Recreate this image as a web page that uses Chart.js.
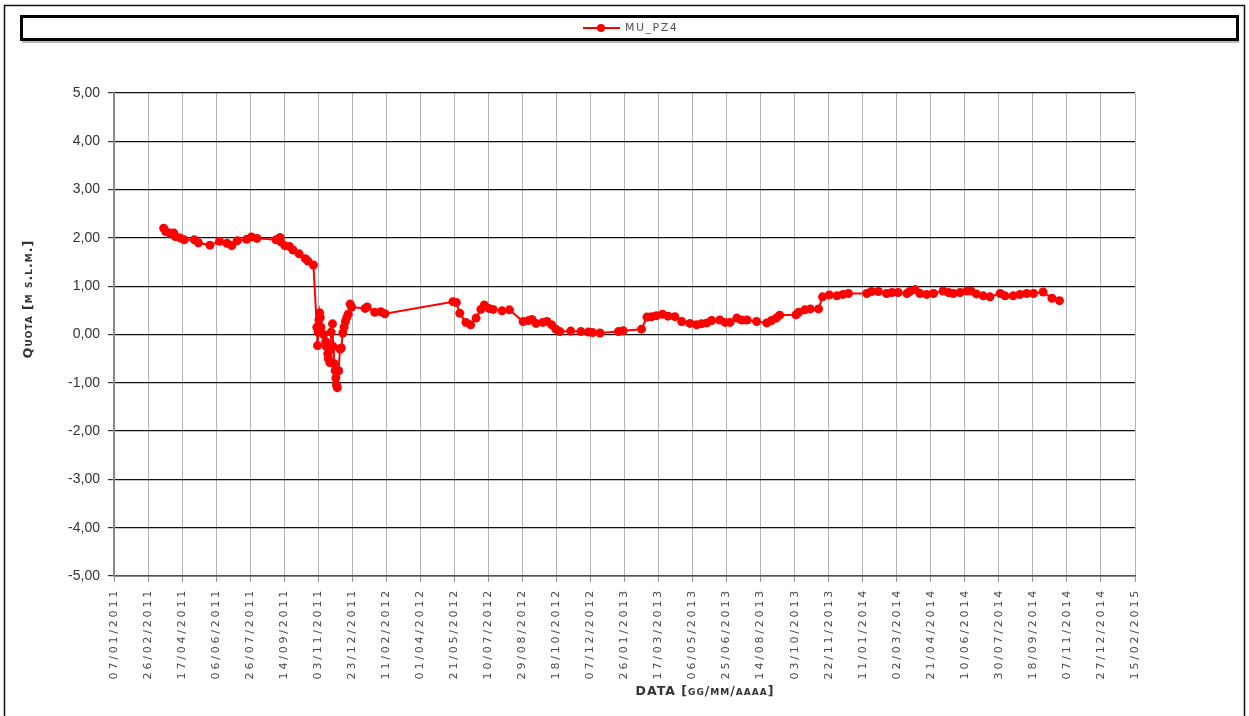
<!DOCTYPE html>
<html>
<head>
<meta charset="utf-8">
<title>MU_PZ4</title>
<script src="https://cdn.jsdelivr.net/npm/chart.js@4.4.1/dist/chart.umd.min.js"></script>
<style>
  html, body { margin: 0; padding: 0; background: #fff; }
  #chart-wrapper { width: 1249px; height: 716px; }
</style>
</head>
<body>
<div id="chart-wrapper"><canvas id="quotaCanvas" width="1249" height="716"></canvas></div>
<script>
// piezometer MU_PZ4 - groundwater level readings
const seriesName = 'MU_PZ4';
const axisStart = '2011-01-07';
const axisEnd = '2015-02-15';
const xStepDays = 50;
const yRange = [-5, 5];

const readDates = [
  '2011-03-21', '2011-03-24', '2011-03-30', '2011-04-05', '2011-04-07', '2011-04-14', '2011-04-20',
  '2011-05-05', '2011-05-11', '2011-05-28', '2011-06-11', '2011-06-22', '2011-06-29', '2011-07-07',
  '2011-07-21', '2011-07-28', '2011-08-05', '2011-09-02', '2011-09-08', '2011-09-09', '2011-09-15',
  '2011-09-22', '2011-09-27', '2011-10-06', '2011-10-15', '2011-10-19', '2011-10-27',
  '2011-11-01', '2011-11-02', '2011-11-03', '2011-11-04', '2011-11-05', '2011-11-06', '2011-11-07',
  '2011-11-11', '2011-11-14', '2011-11-15', '2011-11-17', '2011-11-18', '2011-11-20', '2011-11-21',
  '2011-11-22', '2011-11-24', '2011-11-25', '2011-11-26', '2011-11-28', '2011-11-29', '2011-11-30',
  '2011-12-01', '2011-12-03', '2011-12-05', '2011-12-07', '2011-12-09', '2011-12-11', '2011-12-13',
  '2011-12-15', '2011-12-17', '2011-12-20', '2011-12-22',
  '2012-01-11', '2012-01-14', '2012-01-25', '2012-02-03', '2012-02-09',
  '2012-05-19', '2012-05-24', '2012-05-29', '2012-06-07', '2012-06-14', '2012-06-22', '2012-06-29',
  '2012-07-04', '2012-07-11', '2012-07-17', '2012-07-30', '2012-08-10', '2012-08-30', '2012-09-07',
  '2012-09-12', '2012-09-18', '2012-09-28', '2012-10-04', '2012-10-11', '2012-10-17', '2012-10-23',
  '2012-11-08', '2012-11-23', '2012-12-04', '2012-12-10', '2012-12-21',
  '2013-01-17', '2013-01-24', '2013-02-20', '2013-02-28', '2013-03-07', '2013-03-14', '2013-03-23',
  '2013-03-31', '2013-04-10', '2013-04-20', '2013-05-02', '2013-05-12', '2013-05-19', '2013-05-27',
  '2013-06-03', '2013-06-15', '2013-06-23', '2013-06-30', '2013-07-10', '2013-07-17', '2013-07-25',
  '2013-08-08', '2013-08-23', '2013-08-30', '2013-09-06', '2013-09-11', '2013-10-05', '2013-10-09',
  '2013-10-18', '2013-10-26', '2013-11-07', '2013-11-13', '2013-11-23', '2013-12-04', '2013-12-13',
  '2013-12-21',
  '2014-01-17', '2014-01-24', '2014-02-03', '2014-02-15', '2014-02-23', '2014-03-04', '2014-03-17',
  '2014-03-21', '2014-03-29', '2014-04-05', '2014-04-15', '2014-04-25', '2014-05-09', '2014-05-17',
  '2014-05-24', '2014-06-03', '2014-06-13', '2014-06-19', '2014-06-27', '2014-07-07', '2014-07-17',
  '2014-08-01', '2014-08-08', '2014-08-20', '2014-08-30', '2014-09-09', '2014-09-19', '2014-10-03',
  '2014-10-16', '2014-10-27'
];

// quota in m s.l.m., one per date above
const levels = [
  2.20, 2.13, 2.10, 2.10, 2.03, 2.00, 1.96,
  1.96, 1.90, 1.85, 1.93, 1.89, 1.84, 1.94,
  1.97, 2.02, 1.99, 1.96, 2.01, 1.92, 1.84,
  1.82, 1.75, 1.67, 1.57, 1.52, 1.44,
  0.15, -0.23, 0.05, 0.30, 0.45, 0.35, 0.15,
  0.00, -0.15, -0.25, -0.40, -0.50, -0.58, -0.30,
  0.05, 0.22, -0.25, -0.60, -0.75, -0.90, -1.05,
  -1.10, -0.75, -0.30, -0.28, 0.03, 0.15, 0.27,
  0.35, 0.42, 0.63, 0.57,
  0.54, 0.57, 0.46, 0.47, 0.43,
  0.68, 0.66, 0.44, 0.25, 0.20, 0.34, 0.52,
  0.61, 0.54, 0.52, 0.49, 0.51, 0.27, 0.29,
  0.31, 0.23, 0.25, 0.27, 0.20, 0.11, 0.06,
  0.07, 0.06, 0.05, 0.04, 0.03,
  0.06, 0.08, 0.11, 0.36, 0.37, 0.39, 0.42,
  0.38, 0.37, 0.27, 0.23, 0.20, 0.22, 0.24,
  0.29, 0.30, 0.25, 0.25, 0.34, 0.30, 0.30,
  0.27, 0.24, 0.29, 0.34, 0.40, 0.41, 0.46,
  0.51, 0.53, 0.53, 0.78, 0.82, 0.80, 0.83,
  0.85,
  0.85, 0.89, 0.89, 0.85, 0.87, 0.87, 0.85,
  0.89, 0.93, 0.85, 0.83, 0.85, 0.90, 0.87,
  0.85, 0.87, 0.90, 0.90, 0.84, 0.80, 0.78,
  0.85, 0.80, 0.80, 0.83, 0.85, 0.85, 0.88,
  0.75, 0.70
];

const DAY_MS = 86400000;
const toUtc = (iso) => {
  const [y, m, d] = iso.split('-').map(Number);
  return Date.UTC(y, m - 1, d);
};
const origin = toUtc(axisStart);
const dayOffset = (iso) => (toUtc(iso) - origin) / DAY_MS;

function fmtDate(offset) {
  const d = new Date(origin + offset * DAY_MS);
  const dd = String(d.getUTCDate()).padStart(2, '0');
  const mm = String(d.getUTCMonth() + 1).padStart(2, '0');
  return `${dd}/${mm}/${d.getUTCFullYear()}`;
}

const points = readDates.map((iso, i) => ({ x: dayOffset(iso), y: levels[i] }));

// frame, legend box, rotated date labels and axis titles
const sheetDecor = {
  id: 'sheetDecor',
  beforeDraw(chart) {
    const ctx = chart.ctx;
    ctx.save();
    ctx.fillStyle = '#fff';
    ctx.fillRect(0, 0, chart.width, chart.height);
    ctx.strokeStyle = '#111';
    ctx.lineWidth = 1.5;
    ctx.strokeRect(4.5, 5.5, 1240, 720);
    // legend frame with its drop shadow
    ctx.fillStyle = '#b8b8b8';
    ctx.fillRect(22, 40, 1217, 3);
    ctx.strokeStyle = '#000';
    ctx.lineWidth = 3;
    ctx.strokeRect(21.5, 16.5, 1216, 23);
    ctx.restore();
  },
  afterDraw(chart) {
    const ctx = chart.ctx;
    const xs = chart.scales.x;
    ctx.save();

    // legend entry
    ctx.strokeStyle = '#ff0000';
    ctx.fillStyle = '#ff0000';
    ctx.lineWidth = 2;
    ctx.beginPath();
    ctx.moveTo(583, 28);
    ctx.lineTo(620, 28);
    ctx.stroke();
    ctx.beginPath();
    ctx.arc(601, 28, 4, 0, Math.PI * 2);
    ctx.fill();
    ctx.fillStyle = '#555';
    ctx.font = '11px "DejaVu Sans"';
    ctx.letterSpacing = '1.5px';
    ctx.textAlign = 'left';
    ctx.textBaseline = 'middle';
    ctx.fillText(seriesName, 625, 28.5);

    // date labels, reading upward
    ctx.font = '11px "DejaVu Sans"';
    ctx.letterSpacing = '2.8px';
    ctx.fillStyle = '#4a4a4a';
    ctx.textAlign = 'right';
    ctx.textBaseline = 'middle';
    xs.ticks.forEach((t) => {
      const px = xs.getPixelForValue(t.value);
      ctx.save();
      ctx.translate(px, xs.top + 12);
      ctx.rotate(-Math.PI / 2);
      ctx.fillText(fmtDate(t.value), 0, 0);
      ctx.restore();
    });

    // axis titles
    ctx.fillStyle = '#333';
    ctx.font = 'bold 12.5px "DejaVu Sans"';
    ctx.fontVariantCaps = 'small-caps';
    ctx.letterSpacing = '1px';
    ctx.textAlign = 'center';
    ctx.fillText('DATA [gg/mm/aaaa]', 705, 692);
    ctx.translate(29, 299);
    ctx.rotate(-Math.PI / 2);
    ctx.fillText('Quota [m s.l.m.]', 0, 0);
    ctx.restore();
  }
};

const config = {
  type: 'line',
  data: {
    datasets: [{
      label: seriesName,
      data: points,
      borderColor: '#ff0000',
      backgroundColor: '#ff0000',
      borderWidth: 2,
      pointRadius: 4.5,
      pointBorderWidth: 0,
      pointBackgroundColor: '#ff0000',
      tension: 0
    }]
  },
  options: {
    responsive: false,
    animation: false,
    devicePixelRatio: 1,
    layout: { padding: { top: 93, right: 114, left: 0, bottom: 0 } },
    plugins: {
      legend: { display: false },
      tooltip: { enabled: false }
    },
    scales: {
      x: {
        type: 'linear',
        min: 0,
        max: dayOffset(axisEnd),
        afterFit: (s) => { s.height = 140; },
        ticks: { display: false, stepSize: xStepDays },
        grid: { color: '#b4b4b4', lineWidth: 1, tickLength: 6, tickColor: '#999' },
        border: { color: '#555', width: 1.5 }
      },
      y: {
        min: yRange[0],
        max: yRange[1],
        afterFit: (s) => { s.width = 114; },
        ticks: {
          stepSize: 1,
          padding: 8,
          color: '#333',
          font: { family: '"Liberation Sans", Arial, sans-serif', size: 14 },
          callback: (v) => v.toFixed(2).replace('.', ',')
        },
        grid: { color: '#111', lineWidth: 1.2, tickLength: 6, tickColor: '#333' },
        border: { color: '#888', width: 2 }
      }
    }
  },
  plugins: [sheetDecor]
};

new Chart(document.getElementById('quotaCanvas'), config);
</script>
</body>
</html>
